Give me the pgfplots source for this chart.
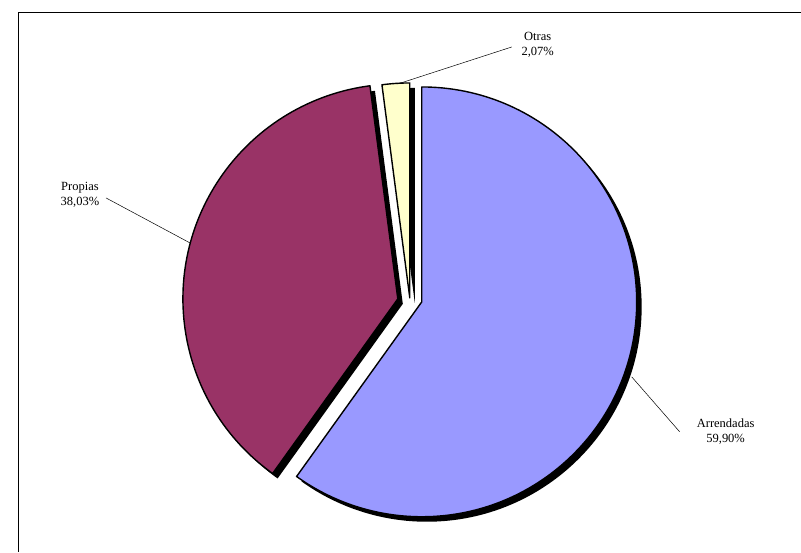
\documentclass[border=0pt]{standalone}
\usepackage{pgfplots}
\pgfplotsset{compat=1.18}
\usepackage{fontspec}
\setmainfont{Liberation Serif}
\definecolor{arr}{HTML}{9999FF}
\definecolor{pro}{HTML}{993366}
\definecolor{otr}{HTML}{FFFFCC}
\begin{document}
\begin{tikzpicture}
\begin{axis}[width=801pt,height=552pt,scale only axis,xmin=0,xmax=801,ymin=0,ymax=552,axis lines=none,clip=false]
\path (axis cs:0,0) rectangle (axis cs:801,552);
% values (percent): Arrendadas 59.90, Propias 38.03, Otras 2.07
% angles: 90 -> -125.64 (Arrendadas), -125.64 -> -262.55 (Propias), -262.55 -> -270 (Otras)
\fill[black] (axis cs:427,245) -- ++(90:215pt) arc[start angle=90,end angle=-125.64,radius=215pt] -- cycle;
\fill[black] (axis cs:403,248) -- ++(-125.64:215pt) arc[start angle=-125.64,end angle=-262.55,radius=215pt] -- cycle;
\fill[black] (axis cs:415,249) -- ++(-262.55:215pt) arc[start angle=-262.55,end angle=-270,radius=215pt] -- cycle;
\filldraw[fill=arr,line width=1.4pt,line join=round] (axis cs:422,250) -- ++(90:215pt) arc[start angle=90,end angle=-125.64,radius=215pt] -- cycle;
\filldraw[fill=pro,line width=1.4pt,line join=round] (axis cs:398,253) -- ++(-125.64:215pt) arc[start angle=-125.64,end angle=-262.55,radius=215pt] -- cycle;
\filldraw[fill=otr,line width=1.4pt,line join=round] (axis cs:410,254) -- ++(-262.55:215pt) arc[start angle=-262.55,end angle=-270,radius=215pt] -- cycle;
\draw[line width=0.8pt] (axis cs:18,0) -- (axis cs:18,540) -- (axis cs:801,540);
\draw[line width=0.5pt] (axis cs:512,505) -- (axis cs:398,468);
\draw[line width=0.5pt] (axis cs:106,354) -- (axis cs:190,309);
\draw[line width=0.5pt] (axis cs:680,120) -- (axis cs:632,175);
\node[align=center,font=\fontsize{12.5}{14.5}\selectfont,inner sep=0] at (axis cs:538,507) {Otras\\2,07\%};
\node[align=center,font=\fontsize{12.5}{14.5}\selectfont,inner sep=0] at (axis cs:80,357) {Propias\\38,03\%};
\node[align=center,font=\fontsize{12.5}{14.5}\selectfont,inner sep=0] at (axis cs:726,120) {Arrendadas\\59,90\%};
\end{axis}
\end{tikzpicture}
\end{document}
